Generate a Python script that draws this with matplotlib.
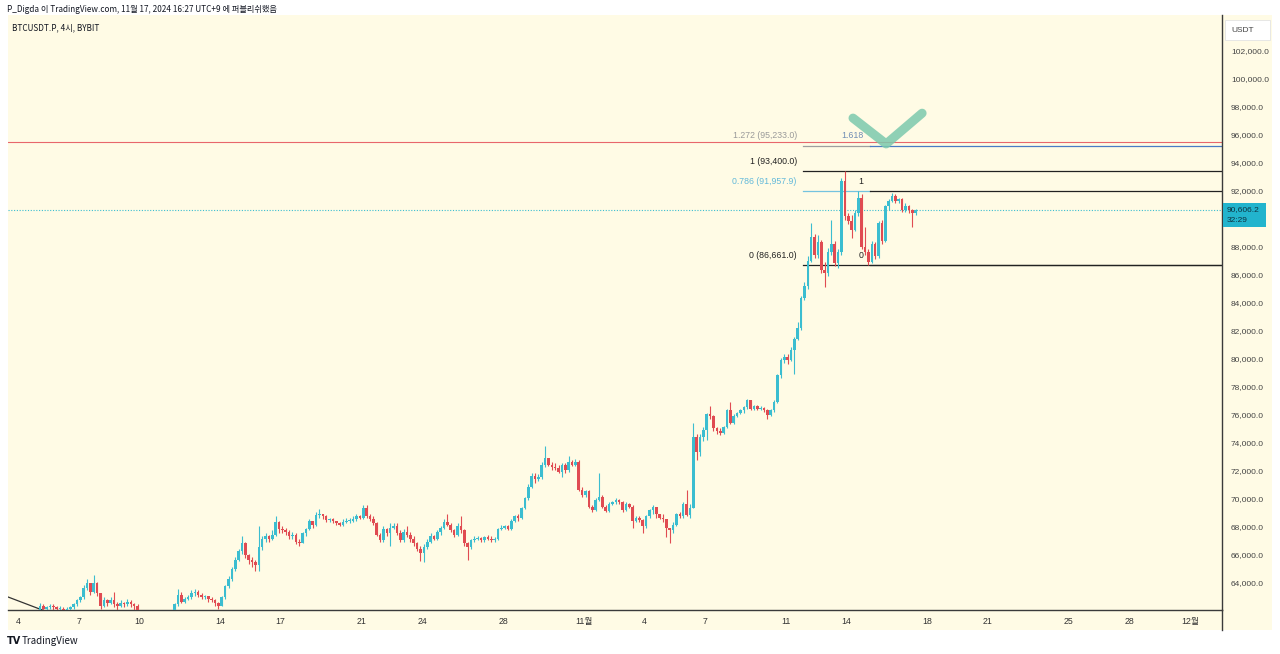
import matplotlib
matplotlib.use("Agg")
import matplotlib.pyplot as plt
import numpy as np
from matplotlib.patches import Rectangle
from matplotlib.lines import Line2D
from matplotlib.ticker import FuncFormatter

plt.rcParams["font.family"] = ["Noto Sans CJK KR", "DejaVu Sans"]

FIG_W, FIG_H = 1280, 654
BG = "#FFFBE5"
UP, DOWN = "#3BBDD0", "#E04B52"
NARROW = ["Liberation Sans", "Noto Sans CJK KR", "DejaVu Sans"]

# BTCUSDT.P 4h candles from Oct 4 00:00 (UTC+9), thousand USDT; open = previous close
FIRST_OPEN = 60.6
CLOSE = [
    60.9, 61.2, 61.4, 61.6, 61.7, 61.8,      # Oct 4
    62.3, 62.1, 62.2, 62.3, 62.2, 62.1,      # Oct 5
    62.1, 62.0, 62.1, 62.2, 62.4, 62.7,      # Oct 6
    62.9, 63.6, 63.9, 63.3, 63.9, 63.2,      # Oct 7
    62.3, 62.7, 62.5, 62.7, 62.4, 62.3,      # Oct 8
    62.5, 62.4, 62.6, 62.4, 62.3, 61.2,      # Oct 9
    60.8, 60.5, 60.9, 60.2, 59.8, 60.4,      # Oct 10
    60.9, 61.1, 61.4, 61.6, 62.4, 63.1,      # Oct 11
    62.6, 62.8, 62.9, 63.2, 63.3, 63.1,      # Oct 12
    62.9, 63.0, 62.8, 62.7, 62.5, 62.3,      # Oct 13
    62.9, 63.7, 64.2, 64.9, 65.6, 66.2,      # Oct 14
    66.8, 65.9, 65.6, 65.4, 65.2, 66.5,      # Oct 15
    67.1, 67.3, 67.1, 67.4, 68.3, 67.8,      # Oct 16
    67.7, 67.6, 67.3, 67.4, 66.9, 66.8,      # Oct 17
    67.5, 67.8, 68.4, 68.1, 68.8, 68.9,      # Oct 18
    68.7, 68.45, 68.5, 68.35, 68.2, 68.1,    # Oct 19
    68.3, 68.4, 68.4, 68.5, 68.7, 68.6,      # Oct 20
    69.3, 68.7, 68.5, 68.2, 67.4, 67.0,      # Oct 21
    67.8, 67.5, 67.9, 68.0, 67.5, 67.0,      # Oct 22
    67.6, 67.4, 67.1, 66.8, 66.4, 66.1,      # Oct 23
    66.5, 66.9, 67.3, 67.1, 67.6, 67.9,      # Oct 24
    68.3, 68.1, 67.7, 67.4, 68.0, 67.7,      # Oct 25
    66.8, 66.5, 67.0, 67.1, 67.15, 67.0,     # Oct 26
    67.2, 67.1, 67.0, 67.05, 67.8, 67.9,     # Oct 27
    68.0, 67.8, 68.4, 68.7, 68.6, 69.3,      # Oct 28
    70.0, 70.8, 71.6, 71.4, 71.5, 72.4,      # Oct 29
    72.85, 72.4, 72.2, 72.15, 71.9, 72.35,   # Oct 30
    72.0, 72.6, 72.4, 72.6, 70.6, 70.2,      # Oct 31
    70.5, 69.4, 69.15, 69.9, 70.1, 69.4,     # Nov 1
    69.1, 69.55, 69.7, 69.85, 69.7, 69.15,   # Nov 2
    69.55, 69.4, 68.4, 68.6, 68.45, 68.0,    # Nov 3
    68.7, 69.15, 69.35, 68.9, 68.6, 68.5,    # Nov 4
    67.85, 67.7, 68.1, 68.9, 68.75, 69.6,    # Nov 5
    68.8, 69.3, 74.4, 73.3, 74.4, 74.9,      # Nov 6
    76.0, 75.85, 75.0, 74.8, 74.7, 75.1,     # Nov 7
    76.3, 75.4, 75.9, 76.1, 76.3, 76.5,      # Nov 8
    77.0, 76.4, 76.6, 76.4, 76.45, 76.3,     # Nov 9
    75.95, 76.3, 76.9, 78.8, 79.9, 80.1,     # Nov 10
    79.9, 80.6, 81.4, 82.2, 84.3, 85.2,      # Nov 11
    87.0, 88.7, 87.4, 88.3, 86.3, 86.1,      # Nov 12
    87.6, 88.2, 86.8, 87.6, 92.7, 90.2,      # Nov 13
    89.8, 89.2, 90.4, 91.5, 88.0, 87.6,      # Nov 14
    86.9, 88.2, 87.3, 89.7, 88.4, 90.9,      # Nov 15
    91.3, 91.6, 91.25, 91.4, 90.6, 90.9,     # Nov 16
    90.6, 90.4, 90.6062,                     # Nov 17
]
HIGH = [
    61.1, 61.4, 61.6, 61.8, 61.9, 61.9,
    62.5, 62.4, 62.3, 62.4, 62.4, 62.3,
    62.3, 62.2, 62.2, 62.3, 62.5, 62.8,
    63.0, 63.8, 64.2, 63.9, 64.5, 64.0,
    63.2, 62.9, 62.8, 62.9, 63.3, 62.6,
    62.7, 62.6, 62.8, 62.7, 62.5, 62.4,
    61.3, 61.0, 61.2, 61.0, 60.5, 60.8,
    61.2, 61.4, 61.7, 61.8, 62.5, 63.5,
    63.3, 62.9, 63.1, 63.4, 63.5, 63.4,
    63.2, 63.1, 63.0, 62.9, 62.8, 62.6,
    63.0, 63.8, 64.4, 65.1, 65.8, 66.4,
    67.3, 66.9, 66.0, 65.8, 65.6, 68.0,
    67.3, 67.5, 67.4, 67.7, 68.7, 68.4,
    68.0, 67.9, 67.7, 67.6, 67.5, 67.1,
    67.6, 67.9, 68.5, 68.4, 69.0, 69.2,
    68.9, 68.8, 68.6, 68.6, 68.4, 68.3,
    68.5, 68.6, 68.6, 68.7, 68.9, 68.8,
    69.5, 69.5, 68.9, 68.7, 68.3, 67.5,
    68.0, 67.9, 68.2, 68.2, 68.2, 67.7,
    67.8, 68.0, 67.6, 67.3, 66.9, 66.6,
    66.7, 67.1, 67.5, 67.4, 67.7, 68.0,
    68.5, 68.9, 68.2, 67.8, 68.2, 68.7,
    67.8, 66.9, 67.1, 67.3, 67.3, 67.2,
    67.3, 67.35, 67.3, 67.2, 67.9, 68.1,
    68.1, 68.1, 68.5, 68.8, 68.9, 69.4,
    70.1, 71.0, 71.8, 71.8, 71.7, 72.6,
    73.7, 72.9, 72.6, 72.5, 72.4, 72.5,
    72.5, 73.0, 72.7, 72.8, 72.7, 70.8,
    70.6, 70.6, 69.5, 70.0, 71.8, 70.2,
    69.5, 69.7, 69.8, 70.0, 69.95, 69.8,
    69.7, 69.65, 69.5, 68.7, 68.7, 68.5,
    68.8, 69.2, 69.5, 69.4, 68.9, 68.9,
    68.5, 67.9, 68.3, 68.95, 69.0, 69.7,
    70.6, 69.6, 75.4, 74.6, 74.6, 75.1,
    76.1, 76.6, 75.95, 75.1, 75.0, 75.2,
    76.4, 76.9, 76.0, 76.2, 76.4, 76.6,
    77.1, 77.05, 76.7, 76.65, 76.6, 76.55,
    76.4, 76.4, 77.0, 78.9, 80.0, 80.3,
    80.3, 80.8, 81.5, 82.6, 84.5, 85.5,
    87.3, 89.7, 88.9, 88.8, 88.5, 86.9,
    87.9, 89.9, 88.4, 87.8, 92.9, 93.4,
    90.4, 90.3, 90.6, 92.0, 91.8, 89.4,
    87.8, 88.4, 88.3, 89.8, 89.9, 91.0,
    91.4, 91.85, 91.8, 91.5, 91.45, 91.1,
    90.95, 90.7, 90.7,
]
LOW = [
    60.4, 60.8, 61.1, 61.3, 61.5, 61.6,
    61.7, 62.0, 62.0, 62.1, 62.0, 62.0,
    61.9, 61.9, 62.0, 62.0, 62.1, 62.3,
    62.6, 62.8, 63.4, 63.1, 63.2, 63.0,
    62.1, 62.2, 62.3, 62.4, 62.2, 62.0,
    62.2, 62.2, 62.3, 62.2, 62.0, 61.0,
    60.3, 60.1, 60.2, 59.6, 58.9, 59.6,
    60.2, 60.7, 61.0, 61.2, 61.5, 62.3,
    62.5, 62.5, 62.7, 62.8, 63.0, 62.9,
    62.8, 62.8, 62.6, 62.6, 62.3, 62.1,
    62.3, 62.8, 63.6, 64.1, 64.8, 65.5,
    66.0, 65.7, 65.3, 65.1, 64.8, 64.8,
    66.3, 66.9, 66.9, 67.0, 67.3, 67.5,
    67.5, 67.4, 67.1, 67.1, 66.7, 66.6,
    66.8, 67.3, 67.7, 67.9, 68.0, 68.6,
    68.5, 68.3, 68.3, 68.2, 68.1, 68.0,
    68.0, 68.2, 68.2, 68.3, 68.4, 68.5,
    68.5, 68.6, 68.4, 68.1, 67.3, 66.9,
    66.9, 67.3, 66.6, 67.8, 67.4, 66.9,
    66.9, 67.2, 66.9, 66.6, 66.2, 65.5,
    65.4, 66.4, 66.8, 67.0, 67.0, 67.4,
    67.8, 68.0, 67.6, 67.2, 67.3, 67.5,
    66.6, 65.6, 66.4, 66.9, 67.0, 66.9,
    66.9, 67.0, 66.9, 66.9, 67.0, 67.7,
    67.8, 67.7, 67.7, 68.3, 68.4, 68.5,
    69.2, 69.9, 70.7, 71.1, 71.2, 71.4,
    72.2, 72.3, 72.0, 72.0, 71.8, 71.55,
    71.8, 71.9, 72.3, 72.3, 70.5, 70.1,
    70.1, 69.3, 69.0, 69.1, 69.8, 69.3,
    69.0, 69.0, 69.5, 69.6, 69.6, 69.0,
    69.1, 69.3, 67.9, 68.3, 68.3, 67.5,
    67.9, 68.6, 68.9, 68.6, 68.5, 68.3,
    67.25, 66.8, 67.5, 68.0, 68.6, 68.6,
    68.7, 68.6, 69.3, 72.7, 73.0, 74.1,
    74.2, 75.7, 74.8, 74.6, 74.5, 74.6,
    75.0, 75.3, 75.3, 75.8, 76.0, 76.1,
    76.4, 76.3, 76.3, 76.3, 76.3, 76.2,
    75.7, 75.9, 76.2, 76.8, 78.6, 79.7,
    79.6, 79.8, 78.9, 81.3, 82.0, 84.2,
    85.0, 86.9, 87.2, 87.2, 86.1, 85.1,
    85.9, 87.4, 86.6, 86.5, 87.4, 89.9,
    89.6, 88.6, 89.1, 90.2, 87.8, 87.4,
    86.661, 86.8, 87.1, 87.2, 88.2, 88.3,
    90.6, 91.2, 91.1, 91.15, 90.5, 90.5,
    90.4, 89.4, 90.3,
]

# time axis: days since Oct 4
TIME_TICKS = [0, 3, 6, 10, 13, 17, 20, 24, 28, 31, 34, 38, 41, 45, 48, 52, 55, 58]
TIME_LABELS = ["4", "7", "10", "14", "17", "21", "24", "28", "11월",
               "4", "7", "11", "14", "18", "21", "25", "28", "12월"]
# 90,000 sits under the last-price tag, so it is not listed
PRICE_TICKS = [64, 66, 68, 70, 72, 74, 76, 78, 80, 82, 84, 86, 88,
               92, 94, 96, 98, 100, 102]

LAST_PRICE = 90.6062
LAST_PRICE_TEXT = "90,606.2"
COUNTDOWN_TEXT = "32:29"
RED_LEVEL = 95.5

# drawn fib retracement (start day, levels)
FIB_T0 = 38.85
FIB_LABELS = ["1.272 (95,233.0)", "1 (93,400.0)", "0.786 (91,957.9)", "0 (86,661.0)"]
FIB_PRICES = [95.233, 93.4, 91.9579, 86.661]
FIB_COLORS = ["#9E9E9E", "#222222", "#74C3DF", "#222222"]
FIB_LABEL_COLORS = ["#9A9A9A", "#222222", "#62B9DA", "#222222"]
FIB_TO_EDGE = [False, True, False, True]

FIB2_T0 = 42.16
FIB2_LABELS = ["1.618", "1", "0"]
FIB2_PRICES = [95.233, 91.9579, 86.661]
FIB2_COLORS = ["#4A7BC4", "#222222", "#222222"]
FIB2_LABEL_COLORS = ["#6F8DB5", "#222222", "#222222"]

# check mark and old trendline drawn on chart
CHECK_T = [41.32, 42.96, 44.74]
CHECK_P = [97.2, 95.35, 97.55]
TREND_T = [-0.6, 1.2]
TREND_P = [62.99, 62.0]

X_LIM = (-0.495, 59.58)
Y_LIM = (62.0, 104.576)


def fx(px):
    return px / FIG_W


def fy(py):
    return 1 - py / FIG_H


fig = plt.figure(figsize=(FIG_W / 100, FIG_H / 100), dpi=100, facecolor="white")

# cream chart panel incl. price/time scales
fig.patches.append(Rectangle((fx(8), fy(630)), fx(1264), (630 - 15) / FIG_H,
                             transform=fig.transFigure, facecolor=BG,
                             edgecolor="none", zorder=-10))

ax = fig.add_axes([fx(8), fy(610), fx(1214), (610 - 15) / FIG_H])
ax.set_facecolor(BG)

close = np.array(CLOSE)
opn = np.array([FIRST_OPEN] + CLOSE[:-1])
hi = np.maximum(np.array(HIGH), np.maximum(opn, close))
lo = np.minimum(np.array(LOW), np.minimum(opn, close))
t = (np.arange(len(close)) + 0.5) / 6.0
colors = [UP if c >= o else DOWN for o, c in zip(opn, close)]

ax.vlines(t, lo, hi, colors=colors, linewidth=0.8, zorder=3)
body_h = np.maximum(np.abs(close - opn), 0.05)
ax.bar(t, body_h, bottom=np.minimum(opn, close), width=0.128,
       color=colors, linewidth=0, zorder=4)

# horizontal lines
ax.axhline(RED_LEVEL, color="#E8666B", linewidth=0.8, zorder=2)
ax.axhline(LAST_PRICE, color=UP, linewidth=0.8, linestyle=(0, (1, 1.5)), zorder=2)

x_right = X_LIM[1]
for lab, p, c, lc, edge in zip(FIB_LABELS, FIB_PRICES, FIB_COLORS,
                               FIB_LABEL_COLORS, FIB_TO_EDGE):
    ax.plot([FIB_T0, x_right if edge else FIB2_T0], [p, p], color=c,
            linewidth=0.9, zorder=2)
    ax.annotate(lab, (FIB_T0, p), xytext=(-4.5, 7), textcoords="offset points",
                ha="right", va="center", fontsize=6.3, color=lc, family=NARROW)

for lab, p, c, lc in zip(FIB2_LABELS, FIB2_PRICES, FIB2_COLORS, FIB2_LABEL_COLORS):
    ax.plot([FIB2_T0, x_right], [p, p], color=c, linewidth=0.9, zorder=2)
    ax.annotate(lab, (FIB2_T0, p), xytext=(-4.5, 7), textcoords="offset points",
                ha="right", va="center", fontsize=6.3, color=lc, family=NARROW)

ax.plot(CHECK_T, CHECK_P, color="#7CC9AD", alpha=0.85, linewidth=6.5,
        solid_capstyle="round", solid_joinstyle="round", zorder=5)
ax.plot(TREND_T, TREND_P, color="#333333", linewidth=0.9, zorder=2)

ax.set_xlim(*X_LIM)
ax.set_ylim(*Y_LIM)

ax.set_xticks(TIME_TICKS)
ax.set_xticklabels(TIME_LABELS, family=NARROW, fontsize=6.3, color="#333333")
ax.tick_params(axis="x", length=0, pad=5)

ax.yaxis.tick_right()
ax.set_yticks(PRICE_TICKS)
ax.yaxis.set_major_formatter(FuncFormatter(lambda v, _: f"{v * 1000:,.1f}"))
for lab in ax.get_yticklabels():
    lab.set_family(NARROW)
ax.tick_params(axis="y", length=0, pad=6.5, labelsize=6, labelcolor="#444444")

for side in ("left", "top"):
    ax.spines[side].set_visible(False)
for side in ("right", "bottom"):
    ax.spines[side].set_color("#3a3a3a")
    ax.spines[side].set_linewidth(1.0)

fig.lines.append(Line2D([fx(1222), fx(1222)], [fy(610), fy(630)],
                        transform=fig.transFigure, color="#3a3a3a", linewidth=1.0))

# last price tag
fig.patches.append(Rectangle((fx(1223), fy(227)), fx(43), 24 / FIG_H,
                             transform=fig.transFigure, facecolor="#22B4CD",
                             edgecolor="none", zorder=5))
fig.text(fx(1227), fy(209.5), LAST_PRICE_TEXT, fontsize=6, color="#0E3442",
         family=NARROW, va="center", zorder=6)
fig.text(fx(1227), fy(220.5), COUNTDOWN_TEXT, fontsize=6, color="#0E3442",
         family=NARROW, va="center", zorder=6)

# currency box
fig.patches.append(Rectangle((fx(1225), fy(40)), fx(45), 20 / FIG_H,
                             transform=fig.transFigure, facecolor="white",
                             edgecolor="#E3E3E3", linewidth=0.6, zorder=5))
fig.text(fx(1231), fy(30), "USDT", fontsize=6, color="#444444",
         family=NARROW, va="center", zorder=6)

fig.text(fx(7), fy(10), "P_Digda 이 TradingView.com, 11월 17, 2024 16:27 UTC+9 에 퍼블리쉬했음",
         fontsize=5.9, color="#131722", va="center")
fig.text(fx(12), fy(28), "BTCUSDT.P, 4시, BYBIT", fontsize=5.9, color="#131722",
         va="center")
fig.text(fx(7), fy(641), "TV", fontsize=7, fontweight="bold", color="#131722",
         va="center", family="DejaVu Sans")
fig.text(fx(22), fy(641), "TradingView", fontsize=7, color="#131722", va="center")

fig.savefig("out.png", dpi=100, facecolor="white")
